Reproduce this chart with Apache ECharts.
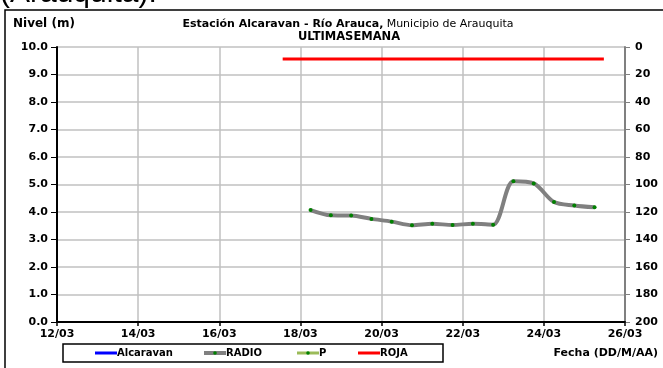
<!DOCTYPE html>
<html><head><meta charset="utf-8">
<script src="https://cdn.jsdelivr.net/npm/echarts@6/dist/echarts.min.js"></script>
<style>html,body{margin:0;padding:0;background:#fff}#c{width:663px;height:368px}</style>
</head><body><div id="c"></div>
<script>
// Data
const xTickLabels = ['12/03','14/03','16/03','18/03','20/03','22/03','24/03','26/03'];
const times = ['18/03 06:00','18/03 18:00','19/03 06:00','19/03 18:00','20/03 06:00','20/03 18:00','21/03 06:00','21/03 18:00','22/03 06:00','22/03 18:00','23/03 06:00','23/03 18:00','24/03 06:00','24/03 18:00','25/03 06:00'];
const radio = [4.07, 3.88, 3.87, 3.75, 3.65, 3.52, 3.57, 3.53, 3.57, 3.54, 5.12, 5.04, 4.36, 4.24, 4.17];
const rojaTimes = ['17/03 13:30','25/03 11:30'];
const rojaLevel = [9.56, 9.56];
const alcaravan = [];
const precip = [];
const legendNames = ['Alcaravan','RADIO','P','ROJA'];

function dayOffset(s){ // days since 12/03 00:00
  const [d, t] = s.split(' ');
  const [dd] = d.split('/').map(Number);
  const [hh, mm] = t.split(':').map(Number);
  return (dd - 12) + (hh + mm/60) / 24;
}
const F = '"DejaVu Sans", sans-serif';
const FA = '"Liberation Sans", Arial, sans-serif';
const chart = echarts.init(document.getElementById('c'), null, {renderer:'canvas'});

// custom legend (line + marker samples)
const legItems = [
  {name:legendNames[0], x:95,  color:'#0000ff', w:3, dot:null},
  {name:legendNames[1], x:204, color:'#808080', w:4, dot:'#008000'},
  {name:legendNames[2], x:297, color:'#9bbb59', w:3, dot:'#008000'},
  {name:legendNames[3], x:358, color:'#ff0000', w:3, dot:null}
];
const LY = 353;
const legendGraphics = [{type:'rect', shape:{x:63, y:344, width:380, height:18}, style:{fill:'none', stroke:'#000', lineWidth:1.5}, silent:true}];
legItems.forEach(it=>{
  legendGraphics.push({type:'line', shape:{x1:it.x, y1:LY, x2:it.x+22, y2:LY}, style:{stroke:it.color, lineWidth:it.w}});
  if(it.dot) legendGraphics.push({type:'circle', shape:{cx:it.x+11, cy:LY, r:1.8}, style:{fill:it.dot}});
  legendGraphics.push({type:'text', x:it.x+22, y:LY, style:{text:it.name, font:'bold 10px '+F, fill:'#000', textVerticalAlign:'middle'}});
});

chart.setOption({
  animation:false,
  textStyle:{fontFamily:F},
  grid:{left:57, right:38, top:47, bottom:46, containLabel:false},
  xAxis:{type:'value', min:0, max:14, interval:2,
    axisLine:{lineStyle:{color:'#000', width:2}},
    axisTick:{show:true, length:4, lineStyle:{color:'#000', width:1.5}},
    axisLabel:{color:'#000', fontWeight:'bold', fontSize:11, fontFamily:F, margin:7,
      formatter:v=>xTickLabels[Math.round(v/2)]},
    splitLine:{show:true, lineStyle:{color:'#c0c0c0', width:1.5}}},
  yAxis:[
    {type:'value', min:0, max:10, interval:1, position:'left',
     axisLine:{show:true, lineStyle:{color:'#000', width:2}},
     axisTick:{show:true, length:6, lineStyle:{color:'#000', width:1}},
     axisLabel:{color:'#000', fontWeight:'bold', fontSize:11, fontFamily:F, margin:9, formatter:v=>v.toFixed(1)},
     splitLine:{show:true, lineStyle:{color:'#c0c0c0', width:1.5}}},
    {type:'value', min:0, max:200, interval:20, position:'right', inverse:true,
     axisLine:{show:true, lineStyle:{color:'#808080', width:2}},
     axisTick:{show:true, length:5, lineStyle:{color:'#808080', width:1}},
     axisLabel:{color:'#000', fontWeight:'bold', fontSize:11, fontFamily:F, margin:10},
     splitLine:{show:false}}
  ],
  series:[
    {name:'Alcaravan', type:'line', data:alcaravan, symbol:'none', lineStyle:{color:'#0000ff', width:3}},
    {name:'RADIO', type:'line', smooth:0.3, data:times.map((t,i)=>[dayOffset(t), radio[i]]),
     symbol:'circle', symbolSize:4, showSymbol:true,
     lineStyle:{color:'#808080', width:4}, itemStyle:{color:'#008000', borderWidth:0}, z:3},
    {name:'P', type:'line', yAxisIndex:1, data:precip, symbol:'circle', symbolSize:4,
     lineStyle:{color:'#9bbb59', width:3}, itemStyle:{color:'#008000'}},
    {name:'ROJA', type:'line', data:rojaTimes.map((t,i)=>[dayOffset(t), rojaLevel[i]]), symbol:'none',
     lineStyle:{color:'#ff0000', width:3}}
  ],
  graphic:[
    {type:'rect', shape:{x:5, y:10, width:700, height:400}, style:{fill:'none', stroke:'#000', lineWidth:1.5}, silent:true},
    {type:'text', x:0, y:-21, style:{text:'(Arauquita).', font:'30px '+FA, fill:'#000'}},
    {type:'text', x:13, y:24, style:{text:'Nivel (m)', font:'bold 12px '+F, fill:'#000', textVerticalAlign:'middle'}},
    {type:'text', x:348, y:24, style:{
      text:'{b|Estación Alcaravan - Río Arauca,} {n|Municipio de Arauquita}',
      rich:{b:{font:'bold 11px '+F, fill:'#000'}, n:{font:'11px '+F, fill:'#000'}},
      textAlign:'center', textVerticalAlign:'middle'}},
    {type:'text', x:349, y:37, style:{text:'ULTIMASEMANA', font:'bold 11.5px '+F, fill:'#000', textAlign:'center', textVerticalAlign:'middle'}},
    {type:'text', x:658, y:353, style:{text:'Fecha (DD/M/AA)', font:'bold 11px '+F, fill:'#000', textAlign:'right', textVerticalAlign:'middle'}}
  ].concat(legendGraphics)
});
</script></body></html>
